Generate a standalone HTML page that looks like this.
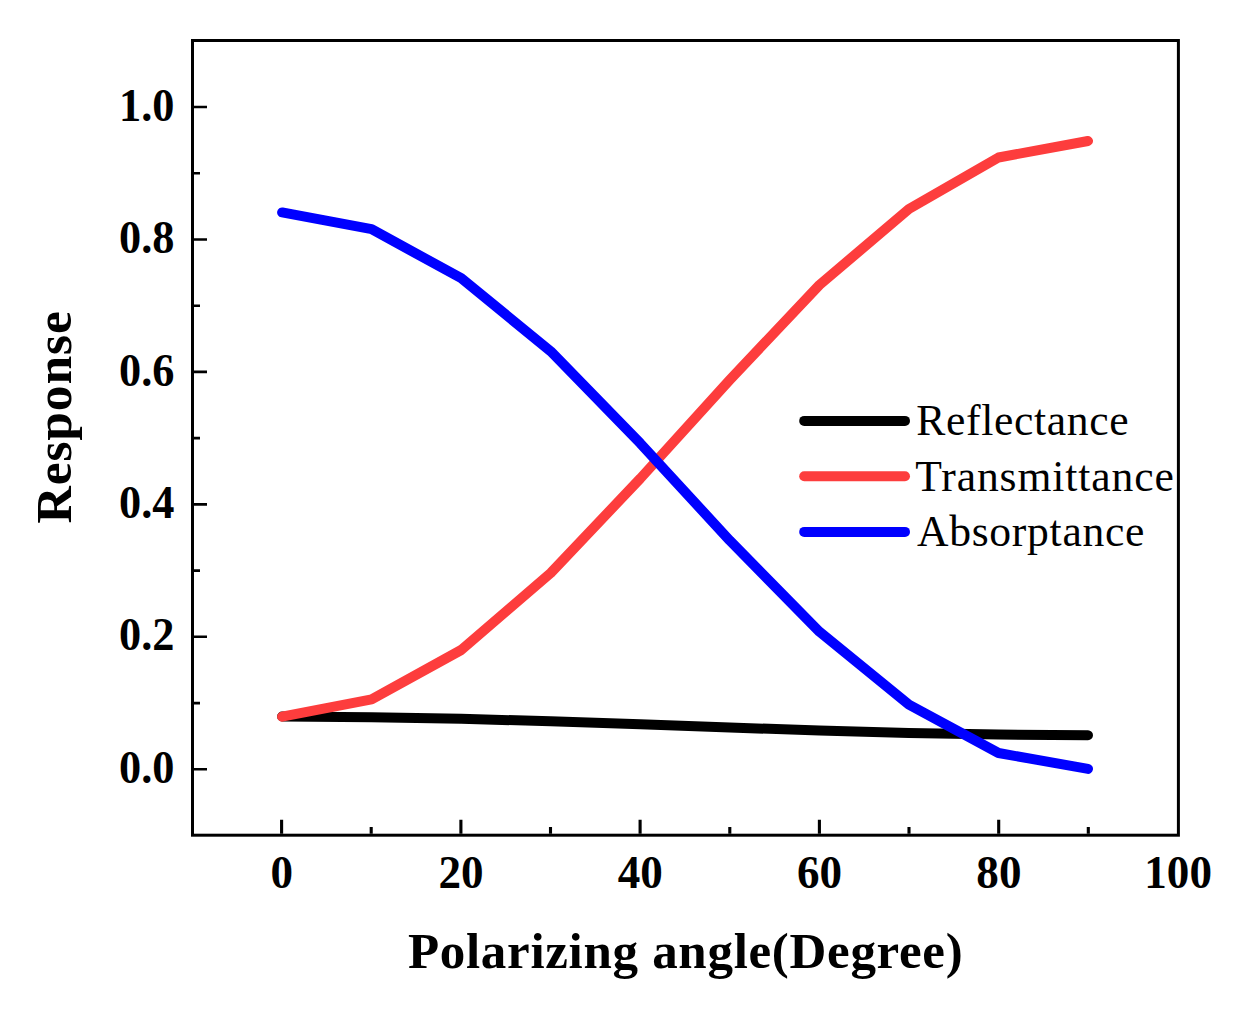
<!DOCTYPE html>
<html><head><meta charset="utf-8"><title>Polarizing angle response</title>
<style>
html,body{margin:0;padding:0;background:#fff;}
body{width:1244px;height:1010px;overflow:hidden;}
svg{display:block;}
text{font-family:"Liberation Serif",serif;fill:#000;}
.b{font-weight:bold;}
.tk{font-size:44px;font-weight:bold;}
.ti{font-size:52px;font-weight:bold;}
.lg{font-size:43.6px;}
</style></head><body>
<svg width="1244" height="1010" viewBox="0 0 1244 1010">
<rect x="0" y="0" width="1244" height="1010" fill="#ffffff"/>
<polyline points="282.1,716.6 371.6,717.2 461.2,718.8 550.7,721.3 640.3,724.3 729.8,727.5 819.4,730.6 908.9,733.0 998.5,734.6 1088.0,735.2" fill="none" stroke="#000000" stroke-width="10" stroke-linecap="round" stroke-linejoin="round"/>
<polyline points="282.1,716.7 371.6,699.4 461.2,650.0 550.7,573.0 640.3,478.5 729.8,379.8 819.4,285.0 908.9,209.0 998.5,157.5 1088.0,141.0" fill="none" stroke="#FD3D3D" stroke-width="10" stroke-linecap="round" stroke-linejoin="round"/>
<polyline points="282.1,212.4 371.6,229.2 461.2,278.2 550.7,351.3 640.3,443.3 729.8,540.6 819.4,631.7 908.9,704.7 998.5,753.0 1088.0,768.9" fill="none" stroke="#0000FF" stroke-width="10" stroke-linecap="round" stroke-linejoin="round"/>
<rect x="192.5" y="40.5" width="985.9" height="794.7" fill="none" stroke="#000" stroke-width="3"/>
<path d="M194.0,769.3h13 M194.0,703.1h6 M194.0,636.8h13 M194.0,570.6h6 M194.0,504.4h13 M194.0,438.1h6 M194.0,371.9h13 M194.0,305.7h6 M194.0,239.5h13 M194.0,173.2h6 M194.0,107.0h13" fill="none" stroke="#000" stroke-width="2.6"/>
<path d="M281.6,833.7v-14 M371.2,833.7v-6.6 M460.9,833.7v-14 M550.5,833.7v-6.6 M640.1,833.7v-14 M729.8,833.7v-6.6 M819.4,833.7v-14 M909.0,833.7v-6.6 M998.7,833.7v-14 M1088.3,833.7v-6.6" fill="none" stroke="#000" stroke-width="3.1"/>
<text class="tk" transform="translate(174.4,782.9) scale(1.008,1.045)" text-anchor="end">0.0</text>
<text class="tk" transform="translate(174.4,650.4) scale(1.008,1.045)" text-anchor="end">0.2</text>
<text class="tk" transform="translate(174.4,518.0) scale(1.008,1.045)" text-anchor="end">0.4</text>
<text class="tk" transform="translate(174.4,385.5) scale(1.008,1.045)" text-anchor="end">0.6</text>
<text class="tk" transform="translate(174.4,253.1) scale(1.008,1.045)" text-anchor="end">0.8</text>
<text class="tk" transform="translate(174.4,120.6) scale(1.008,1.045)" text-anchor="end">1.0</text>
<text class="tk" transform="translate(281.8,887.8) scale(1.025,1.045)" text-anchor="middle">0</text>
<text class="tk" transform="translate(461.1,887.8) scale(1.025,1.045)" text-anchor="middle">20</text>
<text class="tk" transform="translate(640.3,887.8) scale(1.025,1.045)" text-anchor="middle">40</text>
<text class="tk" transform="translate(819.6,887.8) scale(1.025,1.045)" text-anchor="middle">60</text>
<text class="tk" transform="translate(998.9,887.8) scale(1.025,1.045)" text-anchor="middle">80</text>
<text class="tk" transform="translate(1178.1,887.8) scale(1.025,1.045)" text-anchor="middle">100</text>
<text class="ti" style="font-size:51px" x="685.3" y="968" text-anchor="middle" textLength="554.7" lengthAdjust="spacing">Polarizing angle(Degree)</text>
<text class="ti" style="font-size:51.6px" transform="translate(71.0,417.3) rotate(-90)" text-anchor="middle" textLength="212.3" lengthAdjust="spacing">Response</text>
<line x1="804.2" y1="420.9" x2="905" y2="420.9" stroke="#000000" stroke-width="10" stroke-linecap="round"/>
<text class="lg" x="916.3" y="435" textLength="212.3" lengthAdjust="spacing">Reflectance</text>
<line x1="804.2" y1="476.2" x2="905" y2="476.2" stroke="#FD3D3D" stroke-width="10" stroke-linecap="round"/>
<text class="lg" x="915.3" y="490.6" textLength="258.5" lengthAdjust="spacing">Transmittance</text>
<line x1="804.2" y1="531.9" x2="905" y2="531.9" stroke="#0000FF" stroke-width="10" stroke-linecap="round"/>
<text class="lg" x="917" y="546.2" textLength="227.4" lengthAdjust="spacing">Absorptance</text>
</svg></body></html>
